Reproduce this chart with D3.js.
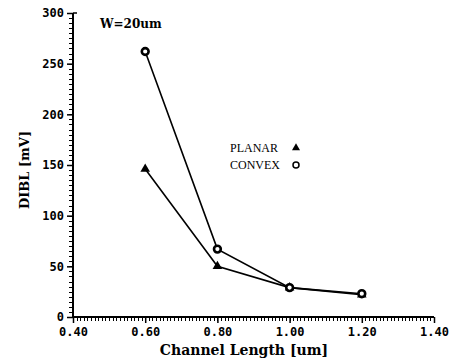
<!DOCTYPE html>
<html><head><meta charset="utf-8">
<script src="https://cdn.jsdelivr.net/npm/d3@7"></script>
<style>html,body{margin:0;padding:0;background:#fff;}</style>
</head><body>
<svg id="c" width="456" height="362"></svg>
<script>
const channelLength = [0.60, 0.80, 1.00, 1.20];
const planar = [146, 50, 29, 22];
const convex = [262, 67, 29, 23];
const xTicks = [0.40, 0.60, 0.80, 1.00, 1.20, 1.40];
const yTicks = [0, 50, 100, 150, 200, 250, 300];

const svg = d3.select("#c");
const x = d3.scaleLinear().domain([0.4, 1.4]).range([73, 434]);
const y = d3.scaleLinear().domain([0, 300]).range([317, 13]);
const tickFont = "'DejaVu Sans Mono', monospace";
const serif = "'Liberation Serif', 'Times New Roman', serif";
const heavy = "'DejaVu Serif', 'Liberation Serif', serif";

// minor ticks
const xMinor = d3.range(0, 101).map(i => 0.4 + i * 0.01);
svg.append("g").selectAll("line").data(xMinor).enter().append("line")
  .attr("x1", d => Math.round(x(d)) + 0.5).attr("x2", d => Math.round(x(d)) + 0.5)
  .attr("y1", y(0)).attr("y2", y(0) + 4)
  .attr("stroke", "#000").attr("stroke-width", 1);
const yMinor = d3.range(0, 61).map(i => i * 5);
svg.append("g").selectAll("line").data(yMinor).enter().append("line")
  .attr("y1", d => Math.round(y(d)) + 0.5).attr("y2", d => Math.round(y(d)) + 0.5)
  .attr("x1", x(0.4) - 4).attr("x2", x(0.4))
  .attr("stroke", "#000").attr("stroke-width", 1);

const gxl = svg.append("g").attr("transform", `translate(0,${y(0)})`)
  .call(d3.axisBottom(x).tickValues(xTicks).tickSize(6).tickPadding(4).tickFormat(d3.format(".2f")));
gxl.select(".domain").remove();
gxl.selectAll(".tick line").attr("stroke", "#000").attr("stroke-width", 1.5);
gxl.selectAll("text").attr("font-family", tickFont).attr("font-weight", "bold").attr("font-size", 12).attr("fill", "#000");

const gyl = svg.append("g").attr("transform", `translate(${x(0.4)},0)`)
  .call(d3.axisLeft(y).tickValues(yTicks).tickSize(6).tickPadding(3).tickFormat(d3.format("d")));
gyl.select(".domain").remove();
gyl.selectAll(".tick line").attr("stroke", "#000").attr("stroke-width", 1.5);
gyl.selectAll("text").attr("font-family", tickFont).attr("font-weight", "bold").attr("font-size", 12).attr("fill", "#000");

// axis lines
svg.append("path").attr("d", `M${x(0.4)},${y(300)}V${y(0)}H${x(1.4)}`).attr("fill", "none").attr("stroke", "#000").attr("stroke-width", 2);
svg.append("line").attr("x1", x(0.4)).attr("x2", x(0.4) + 4).attr("y1", y(300)).attr("y2", y(300)).attr("stroke", "#000").attr("stroke-width", 1.5);

// titles
svg.append("text").attr("x", 244).attr("y", 355).attr("text-anchor", "middle")
  .attr("font-family", heavy).attr("font-weight", "bold").attr("font-size", 14).text("Channel Length [um]");
svg.append("text").attr("transform", "translate(29,170) rotate(-90)").attr("text-anchor", "middle")
  .attr("font-family", heavy).attr("font-weight", "bold").attr("font-size", 13).text("DIBL [mV]");
svg.append("text").attr("x", 100).attr("y", 28)
  .attr("font-family", heavy).attr("font-weight", "bold").attr("font-size", 12).text("W=20um");

// lines
const line = d3.line().x((d, i) => x(channelLength[i])).y(d => y(d));
svg.append("path").datum(planar).attr("d", line).attr("fill", "none").attr("stroke", "#000").attr("stroke-width", 1.6);
svg.append("path").datum(convex).attr("d", line).attr("fill", "none").attr("stroke", "#000").attr("stroke-width", 1.6);

const tri = d3.symbol().type(d3.symbolTriangle).size(40);
svg.selectAll(".pt").data(planar).enter().append("path")
  .attr("transform", (d, i) => `translate(${x(channelLength[i])},${y(d)})`)
  .attr("d", tri).attr("fill", "#000");
svg.selectAll(".cv").data(convex).enter().append("circle")
  .attr("cx", (d, i) => x(channelLength[i])).attr("cy", d => y(d)).attr("r", 3.4)
  .attr("fill", "#fff").attr("stroke", "#000").attr("stroke-width", 2.6);

// legend
svg.append("text").attr("x", 230).attr("y", 152).attr("font-family", serif).attr("font-size", 12).text("PLANAR");
svg.append("path").attr("transform", "translate(296,148)").attr("d", d3.symbol().type(d3.symbolTriangle).size(28)).attr("fill", "#000");
svg.append("text").attr("x", 230).attr("y", 169).attr("font-family", serif).attr("font-size", 12).text("CONVEX");
svg.append("circle").attr("cx", 296).attr("cy", 165).attr("r", 3).attr("fill", "#fff").attr("stroke", "#000").attr("stroke-width", 1.5);
</script>
</body></html>
